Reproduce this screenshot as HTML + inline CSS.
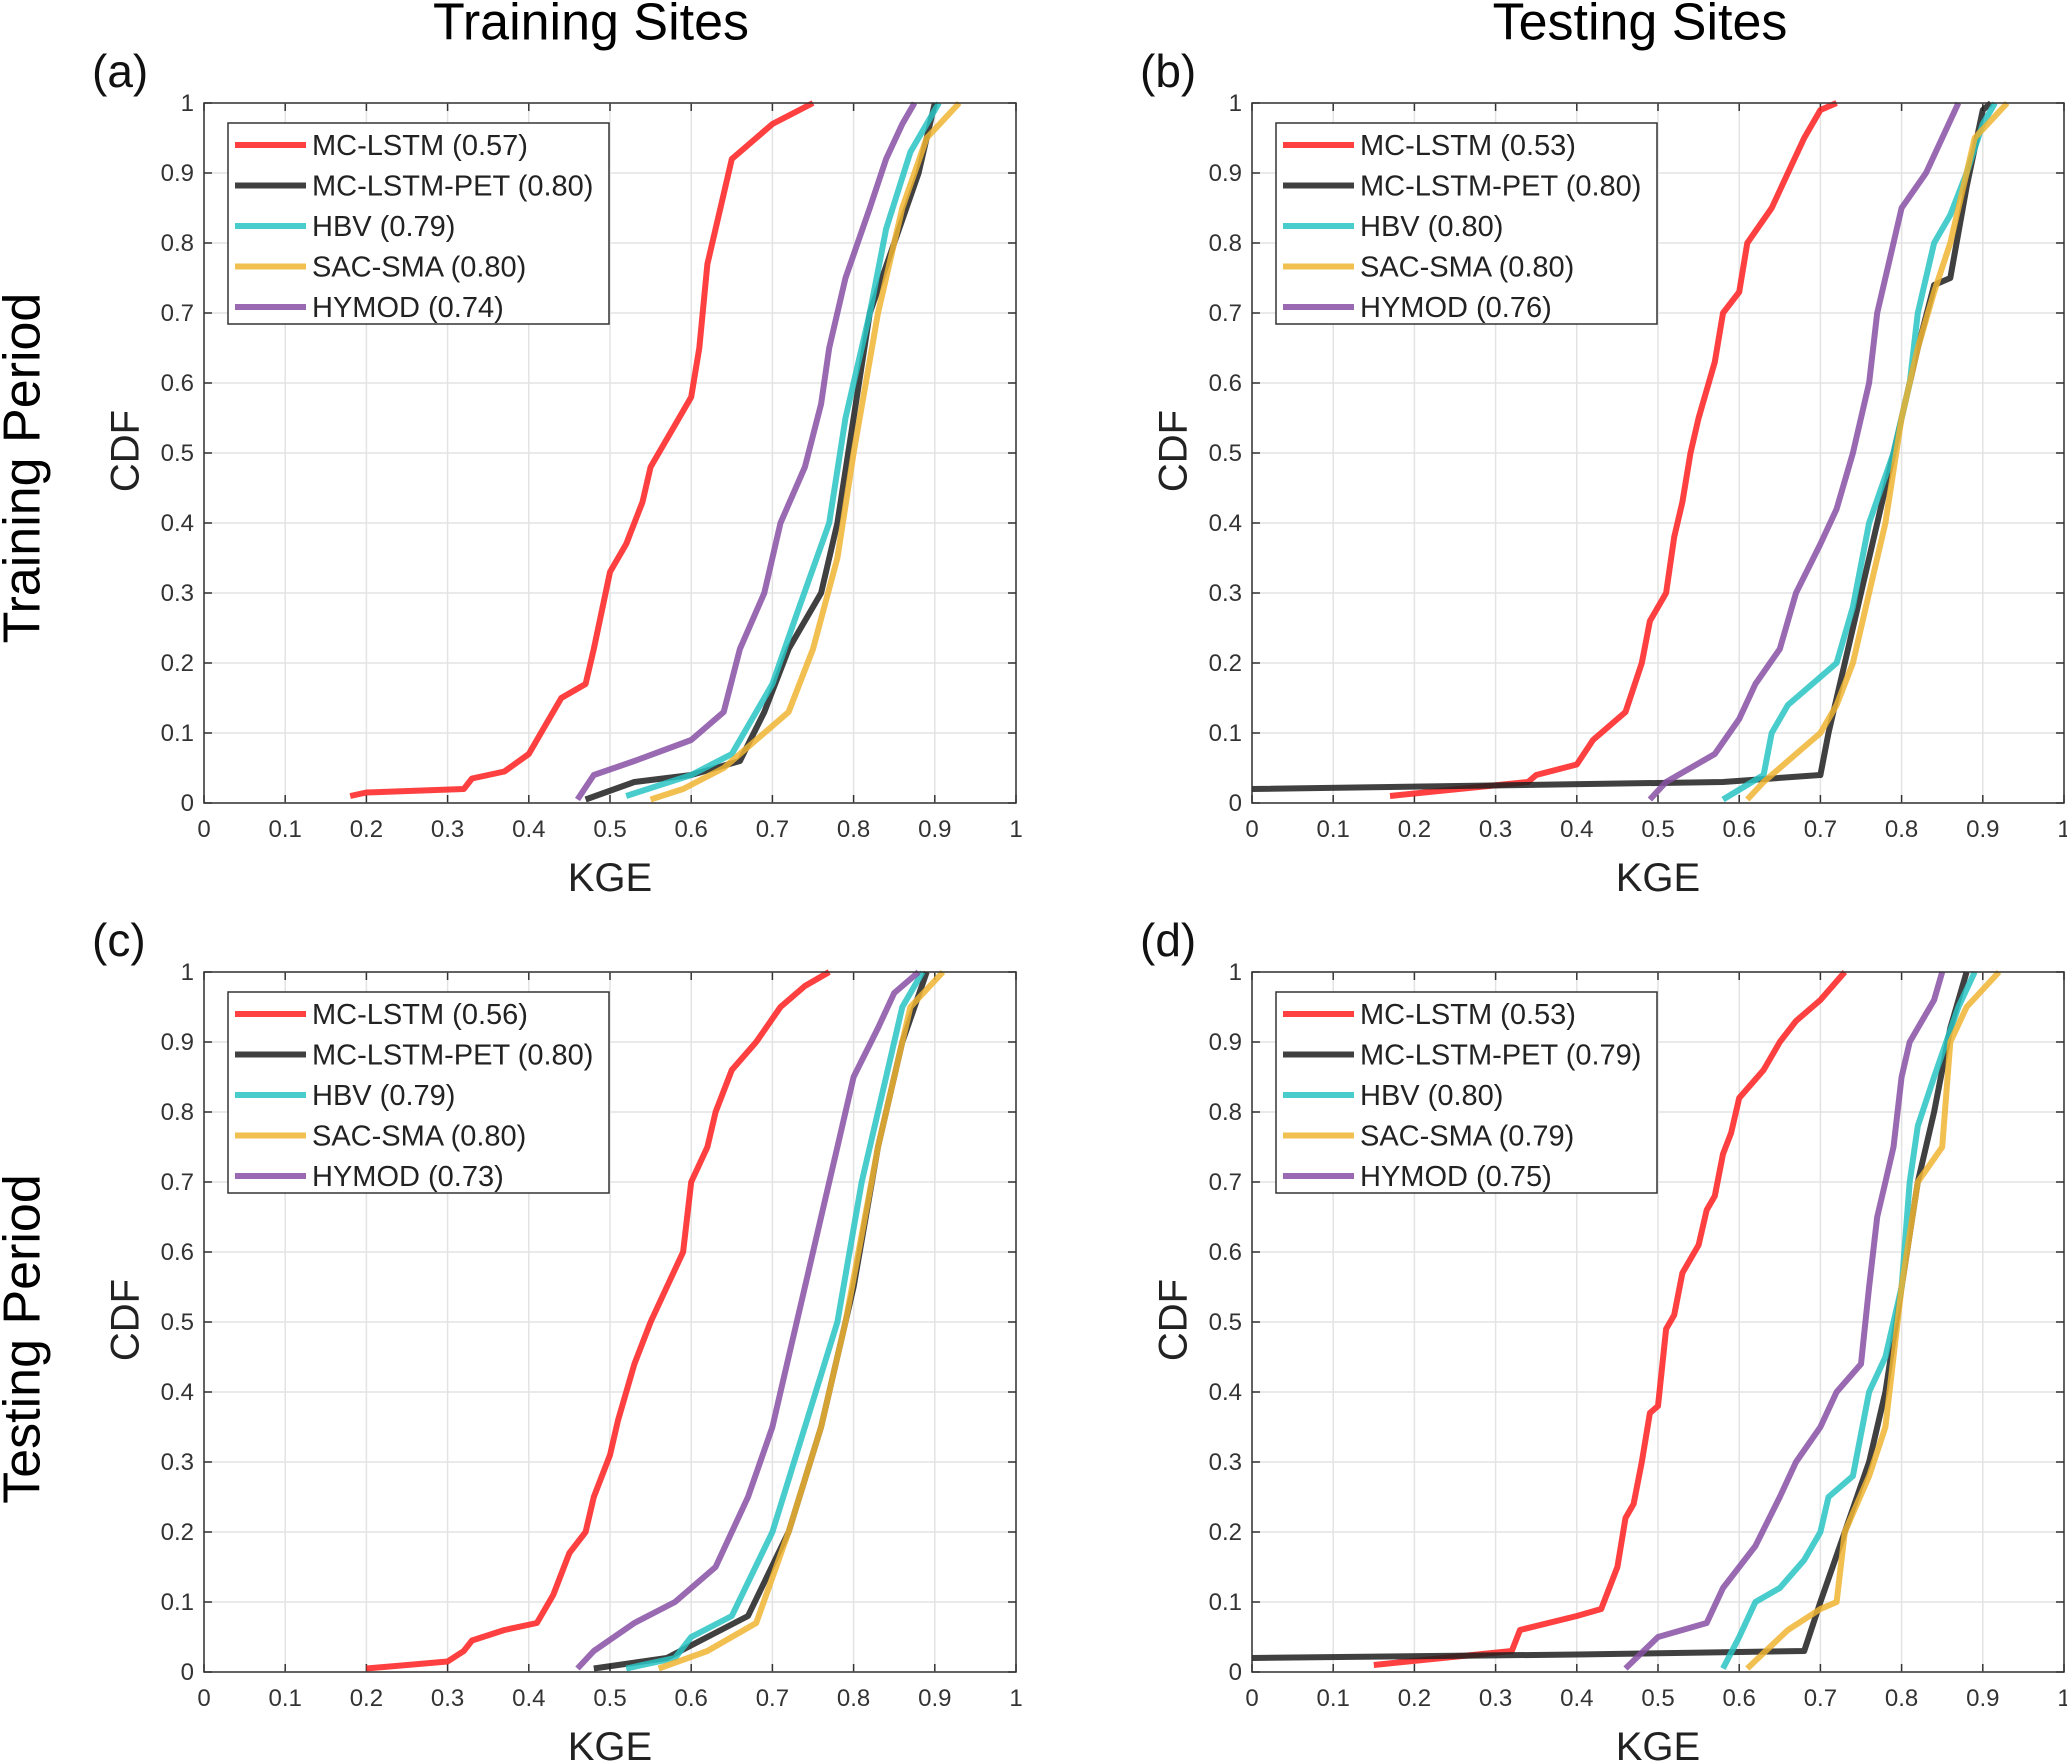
<!DOCTYPE html>
<html><head><meta charset="utf-8">
<style>
html,body{margin:0;padding:0;background:#fff;}
svg{display:block;font-family:"Liberation Sans",Arial,sans-serif;}
</style></head>
<body>
<svg id="fig" width="2067" height="1764" viewBox="0 0 2067 1764" xmlns="http://www.w3.org/2000/svg">
<rect width="2067" height="1764" fill="#fff"/>
<text x="591" y="26" font-size="52" text-anchor="middle" dominant-baseline="middle">Training Sites</text>
<text x="1640" y="26" font-size="52" text-anchor="middle" dominant-baseline="middle">Testing Sites</text>
<text x="26" y="468" font-size="52" text-anchor="middle" dominant-baseline="middle" transform="rotate(-90 26 468)">Training Period</text>
<text x="26" y="1339" font-size="52" text-anchor="middle" dominant-baseline="middle" transform="rotate(-90 26 1339)">Testing Period</text>
</svg>
<script>
// ---------- data ----------
const seriesNames = ["MC-LSTM","MC-LSTM-PET","HBV","SAC-SMA","HYMOD"];
const seriesColors = ["rgba(255,30,30,0.85)","rgba(30,30,30,0.85)","rgba(40,195,195,0.85)","rgba(240,180,50,0.85)","rgba(135,80,165,0.85)"];
const xTicks = [0,0.1,0.2,0.3,0.4,0.5,0.6,0.7,0.8,0.9,1];
const xTickLabels = ["0","0.1","0.2","0.3","0.4","0.5","0.6","0.7","0.8","0.9","1"];
const yTicks = [0,0.1,0.2,0.3,0.4,0.5,0.6,0.7,0.8,0.9,1];
const yTickLabels = ["0","0.1","0.2","0.3","0.4","0.5","0.6","0.7","0.8","0.9","1"];
const panelLetters = ["(a)","(b)","(c)","(d)"];
const medA = ["0.57","0.80","0.79","0.80","0.74"];
const medB = ["0.53","0.80","0.80","0.80","0.76"];
const medC = ["0.56","0.80","0.79","0.80","0.73"];
const medD = ["0.53","0.79","0.80","0.79","0.75"];

// Panel (a)
const aRedX=[0.18,0.2,0.32,0.33,0.37,0.4,0.42,0.44,0.47,0.48,0.5,0.52,0.54,0.55,0.58,0.6,0.61,0.62,0.64,0.65,0.68,0.7,0.75];
const aRedY=[0.01,0.015,0.02,0.035,0.045,0.07,0.11,0.15,0.17,0.22,0.33,0.37,0.43,0.48,0.54,0.58,0.65,0.77,0.87,0.92,0.95,0.97,1];
const aBlkX=[0.47,0.53,0.6,0.66,0.69,0.72,0.76,0.78,0.8,0.82,0.85,0.88,0.9];
const aBlkY=[0.005,0.03,0.04,0.06,0.13,0.22,0.3,0.4,0.55,0.7,0.8,0.9,1];
const aHbvX=[0.52,0.6,0.65,0.7,0.73,0.77,0.79,0.82,0.84,0.87,0.905];
const aHbvY=[0.01,0.04,0.07,0.17,0.27,0.4,0.55,0.7,0.82,0.93,1];
const aSacX=[0.55,0.59,0.64,0.67,0.72,0.75,0.78,0.8,0.83,0.86,0.89,0.93];
const aSacY=[0.005,0.02,0.05,0.08,0.13,0.22,0.35,0.5,0.7,0.85,0.95,1];
const aHymX=[0.46,0.48,0.53,0.6,0.64,0.66,0.69,0.71,0.74,0.76,0.77,0.79,0.82,0.84,0.86,0.875];
const aHymY=[0.005,0.04,0.06,0.09,0.13,0.22,0.3,0.4,0.48,0.57,0.65,0.75,0.85,0.92,0.97,1];
// Panel (b)
const bRedX=[0.17,0.34,0.35,0.4,0.42,0.46,0.48,0.49,0.51,0.52,0.53,0.54,0.55,0.57,0.58,0.6,0.61,0.64,0.66,0.68,0.7,0.72];
const bRedY=[0.01,0.03,0.04,0.055,0.09,0.13,0.2,0.26,0.3,0.38,0.43,0.5,0.55,0.63,0.7,0.73,0.8,0.85,0.9,0.95,0.99,1];
const bBlkX=[0,0.58,0.7,0.71,0.73,0.75,0.78,0.8,0.82,0.84,0.86,0.88,0.9,0.91];
const bBlkY=[0.02,0.03,0.04,0.1,0.2,0.3,0.45,0.55,0.65,0.74,0.75,0.88,0.99,1];
const bHbvX=[0.58,0.63,0.64,0.66,0.7,0.72,0.74,0.76,0.79,0.81,0.82,0.84,0.86,0.88,0.9,0.915];
const bHbvY=[0.005,0.04,0.1,0.14,0.18,0.2,0.28,0.4,0.5,0.6,0.7,0.8,0.84,0.9,0.97,1];
const bSacX=[0.61,0.63,0.67,0.7,0.72,0.74,0.76,0.78,0.8,0.82,0.84,0.86,0.88,0.89,0.93];
const bSacY=[0.005,0.03,0.07,0.1,0.14,0.2,0.3,0.4,0.55,0.65,0.73,0.8,0.9,0.95,1];
const bHymX=[0.49,0.51,0.57,0.6,0.62,0.65,0.67,0.7,0.72,0.74,0.76,0.77,0.79,0.8,0.83,0.85,0.87];
const bHymY=[0.005,0.03,0.07,0.12,0.17,0.22,0.3,0.37,0.42,0.5,0.6,0.7,0.8,0.85,0.9,0.95,1];
// Panel (c)
const cRedX=[0.2,0.3,0.32,0.33,0.37,0.41,0.43,0.45,0.47,0.48,0.5,0.51,0.53,0.55,0.57,0.59,0.6,0.62,0.63,0.65,0.68,0.71,0.74,0.77];
const cRedY=[0.005,0.015,0.03,0.045,0.06,0.07,0.11,0.17,0.2,0.25,0.31,0.36,0.44,0.5,0.55,0.6,0.7,0.75,0.8,0.86,0.9,0.95,0.98,1];
const cBlkX=[0.48,0.57,0.62,0.67,0.72,0.76,0.8,0.83,0.86,0.89];
const cBlkY=[0.005,0.02,0.05,0.08,0.2,0.35,0.55,0.75,0.9,1];
const cHbvX=[0.52,0.58,0.6,0.65,0.7,0.74,0.78,0.81,0.84,0.86,0.885];
const cHbvY=[0.005,0.02,0.05,0.08,0.2,0.35,0.5,0.7,0.85,0.95,1];
const cSacX=[0.56,0.62,0.68,0.72,0.76,0.79,0.83,0.86,0.87,0.91];
const cSacY=[0.005,0.03,0.07,0.2,0.35,0.5,0.75,0.9,0.95,1];
const cHymX=[0.46,0.48,0.53,0.58,0.63,0.67,0.7,0.72,0.74,0.76,0.78,0.8,0.83,0.85,0.88];
const cHymY=[0.005,0.03,0.07,0.1,0.15,0.25,0.35,0.45,0.55,0.65,0.75,0.85,0.92,0.97,1];
// Panel (d)
const dRedX=[0.15,0.32,0.33,0.4,0.43,0.45,0.46,0.47,0.48,0.49,0.5,0.51,0.52,0.53,0.55,0.56,0.57,0.58,0.59,0.6,0.63,0.65,0.67,0.7,0.73];
const dRedY=[0.01,0.03,0.06,0.08,0.09,0.15,0.22,0.24,0.3,0.37,0.38,0.49,0.51,0.57,0.61,0.66,0.68,0.74,0.77,0.82,0.86,0.9,0.93,0.96,1];
const dBlkX=[0,0.4,0.68,0.7,0.73,0.76,0.78,0.8,0.82,0.84,0.86,0.88];
const dBlkY=[0.02,0.025,0.03,0.1,0.2,0.3,0.4,0.55,0.7,0.8,0.92,1];
const dHbvX=[0.58,0.6,0.62,0.65,0.68,0.7,0.71,0.74,0.76,0.78,0.8,0.81,0.82,0.84,0.87,0.89];
const dHbvY=[0.005,0.05,0.1,0.12,0.16,0.2,0.25,0.28,0.4,0.45,0.55,0.7,0.78,0.85,0.95,1];
const dSacX=[0.61,0.66,0.7,0.72,0.73,0.76,0.78,0.8,0.82,0.85,0.86,0.88,0.92];
const dSacY=[0.005,0.06,0.09,0.1,0.2,0.28,0.35,0.55,0.7,0.75,0.9,0.95,1];
const dHymX=[0.46,0.5,0.56,0.58,0.62,0.65,0.67,0.7,0.72,0.75,0.76,0.77,0.78,0.79,0.8,0.81,0.84,0.85];
const dHymY=[0.005,0.05,0.07,0.12,0.18,0.25,0.3,0.35,0.4,0.44,0.55,0.65,0.7,0.75,0.85,0.9,0.96,1];

const panelSeries = [
  [[aRedX,aRedY],[aBlkX,aBlkY],[aHbvX,aHbvY],[aSacX,aSacY],[aHymX,aHymY]],
  [[bRedX,bRedY],[bBlkX,bBlkY],[bHbvX,bHbvY],[bSacX,bSacY],[bHymX,bHymY]],
  [[cRedX,cRedY],[cBlkX,cBlkY],[cHbvX,cHbvY],[cSacX,cSacY],[cHymX,cHymY]],
  [[dRedX,dRedY],[dBlkX,dBlkY],[dHbvX,dHbvY],[dSacX,dSacY],[dHymX,dHymY]]
];
const panelMedians = [medA,medB,medC,medD];

// ---------- drawing ----------
const NS="http://www.w3.org/2000/svg";
const svg=document.getElementById('fig');
function mk(tag,attrs,parent){const e=document.createElementNS(NS,tag);for(const k in attrs)e.setAttribute(k,attrs[k]);(parent||svg).appendChild(e);return e;}
const boxes=[{x:204,y:103},{x:1252,y:103},{x:204,y:972},{x:1252,y:972}];
const W=812,H=700;
const legNames=["legend-entry-mc-lstm","legend-entry-mc-lstm-pet","legend-entry-hbv","legend-entry-sac-sma","legend-entry-hymod"];
const lineNames=["line-mc-lstm","line-mc-lstm-pet","line-hbv","line-sac-sma","line-hymod"];
boxes.forEach((b,p)=>{
  const sx=v=>b.x+v*W, sy=v=>b.y+H-v*H;
  const g=mk('g',{});
  
  
  mk('rect',{x:b.x,y:b.y,width:W,height:H,fill:'#fff'},g);
  xTicks.forEach((t,i)=>{
    const ln=mk('line',{x1:sx(t),x2:sx(t),y1:b.y,y2:b.y+H,stroke:'#e3e3e3','stroke-width':1.5},g);
    
    
    mk('line',{x1:sx(t),x2:sx(t),y1:b.y+H,y2:b.y+H-8,stroke:'#333','stroke-width':1.5},g);
    mk('line',{x1:sx(t),x2:sx(t),y1:b.y,y2:b.y+8,stroke:'#333','stroke-width':1.5},g);
    const tx=mk('text',{x:sx(t),y:b.y+H+34,'font-size':24,'text-anchor':'middle',fill:'#333'},g);
    
    
    tx.textContent=xTickLabels[i];
  });
  yTicks.forEach((t,i)=>{
    const ln=mk('line',{x1:b.x,x2:b.x+W,y1:sy(t),y2:sy(t),stroke:'#e3e3e3','stroke-width':1.5},g);
    
    
    mk('line',{x1:b.x,x2:b.x+8,y1:sy(t),y2:sy(t),stroke:'#333','stroke-width':1.5},g);
    mk('line',{x1:b.x+W,x2:b.x+W-8,y1:sy(t),y2:sy(t),stroke:'#333','stroke-width':1.5},g);
    const ty=mk('text',{x:b.x-10,y:sy(t)+8,'font-size':24,'text-anchor':'end',fill:'#333'},g);
    
    
    ty.textContent=yTickLabels[i];
  });
  const clip=mk('clipPath',{id:'clip'+p},g);
  mk('rect',{x:b.x,y:b.y-4,width:W,height:H+4},clip);
  panelSeries[p].forEach((s,k)=>{
    const pts=s[0].map((x,i)=>sx(x).toFixed(1)+','+sy(s[1][i]).toFixed(1)).join(' ');
    const pl=mk('polyline',{points:pts,fill:'none',stroke:seriesColors[k],'stroke-width':6,'stroke-linejoin':'round','clip-path':'url(#clip'+p+')'},g);
    
    
  });
  mk('rect',{x:b.x,y:b.y,width:W,height:H,fill:'none',stroke:'#333','stroke-width':1.5},g);
  const lg=mk('g',{},g);
  
  
  mk('rect',{x:b.x+24,y:b.y+20,width:381,height:201,fill:'#fff',stroke:'#333','stroke-width':1.5},lg);
  seriesNames.forEach((n,k)=>{
    const yy=b.y+42+k*40.5;
    const eg=mk('g',{},lg);
    
    
    mk('line',{x1:b.x+31,x2:b.x+102,y1:yy,y2:yy,stroke:seriesColors[k],'stroke-width':6},eg);
    const t=mk('text',{x:b.x+108,y:yy+10,'font-size':29,fill:'#222'},eg);
    t.textContent=n+' ('+panelMedians[p][k]+')';
  });
  const xl=mk('text',{x:b.x+W/2,y:b.y+H+88,'font-size':40,'text-anchor':'middle',fill:'#222'},g);
  
  
  xl.textContent='KGE';
  const yx=b.x-76, yc=b.y+H/2-2;
  const yl=mk('text',{x:yx,y:yc,'font-size':40,'text-anchor':'middle','dominant-baseline':'middle',fill:'#222',transform:'rotate(-90 '+yx+' '+yc+')'},g);
  
  
  yl.textContent='CDF';
  const pl=mk('text',{x:b.x-112,y:b.y-16,'font-size':46,fill:'#111'},g);
  
  
  pl.textContent=panelLetters[p];
});
</script>
</body></html>
